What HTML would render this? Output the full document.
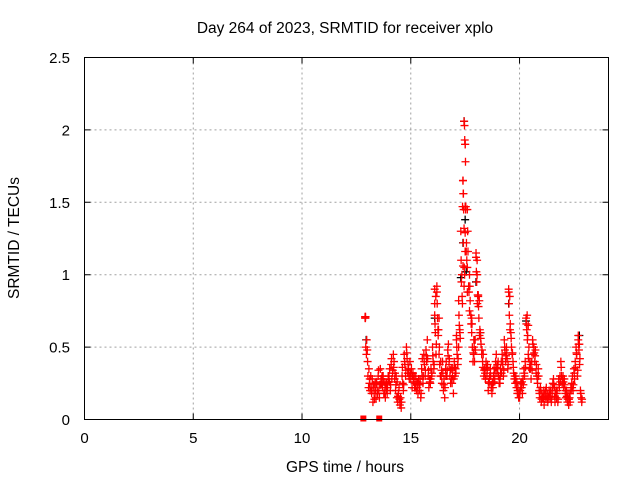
<!DOCTYPE html>
<html><head><meta charset="utf-8">
<style>
body{margin:0;background:#fff;}
svg{display:block;font-family:"Liberation Sans",sans-serif;}
</style></head>
<body>
<svg id="chart" width="640" height="480" viewBox="0 0 640 480">
<rect width="640" height="480" fill="#fff"/>
<text x="345" y="33" font-size="15.5" text-anchor="middle">Day 264 of 2023, SRMTID for receiver xplo</text>
<g id="grid"></g>
<g id="axes"></g>
<g id="marks"></g>
<rect x="84.5" y="57.5" width="524" height="362" fill="none" stroke="#000" stroke-width="1"/>
<text transform="translate(19,238) rotate(-90)" font-size="15.5" text-anchor="middle">SRMTID / TECUs</text>
<text x="345" y="472" font-size="15.5" text-anchor="middle">GPS time / hours</text>
</svg>
<script>
const xTicks=[0,5,10,15,20];
const yTicks=[0,0.5,1,1.5,2,2.5];
const yTickLabels=["0","0.5","1","1.5","2","2.5"];
const trackStart=12.9, trackStep=0.1;
const trackA=[0.71,0.48,0.25,0.18,0.22,0.15,0.30,0.35,0.22,0.18,0.25,0.30,0.38,0.45,0.20,0.12,0.10,0.30,0.45,0.50,0.35,0.28,0.32,0.25,0.22,0.20,0.35,0.45,0.48,0.30,0.25,0.50,0.72,0.88,0.45,0.30,0.20,0.35,0.48,0.30,0.25,0.40,0.55,0.82,1.30,1.65,1.90,1.45,1.00,0.60,0.45,1.12,0.85,0.60,0.40,0.35,0.30,0.25,0.22,0.30,0.40,0.35,0.25,0.45,0.55,0.50,0.88,0.60,0.40,0.25,0.18,0.15,0.22,0.35,0.70,0.45,0.35,0.55,0.40,0.30,0.20,0.12,0.15,0.20,0.12,0.15,0.18,0.22,0.15,0.28,0.40,0.30,0.18,0.12,0.15,0.25,0.35,0.50,0.55,0.20];
const trackB=[0.50,0.30,0.20,0.28,0.14,0.25,0.20,0.28,0.30,0.15,0.22,0.35,0.28,0.40,0.30,0.18,0.15,0.25,0.38,0.42,0.28,0.35,0.26,0.30,0.18,0.28,0.42,0.38,0.40,0.22,0.35,0.40,0.60,0.70,0.38,0.25,0.28,0.40,0.52,0.25,0.35,0.30,0.45,0.65,0.95,1.45,1.47,1.16,0.82,0.50,0.40,0.95,0.70,0.52,0.45,0.28,0.38,0.30,0.18,0.35,0.45,0.30,0.35,0.38,0.48,0.42,0.72,0.50,0.32,0.30,0.22,0.20,0.18,0.30,0.62,0.50,0.28,0.45,0.48,0.25,0.15,0.18,0.10,0.22,0.16,0.20,0.25,0.12,0.20,0.22,0.30,0.22,0.15,0.18,0.12,0.30,0.28,0.45,0.48,0.15];
const trackC=[0.45,0.22,0.30,0.12,0.25,0.20,0.15,0.25,0.18,0.25,0.30,0.20,0.32,0.28,0.15,0.22,0.08,0.20,0.30,0.32,0.40,0.22,0.30,0.20,0.28,0.15,0.25,0.30,0.55,0.28,0.30,0.35,0.45,0.58,0.30,0.40,0.15,0.30,0.38,0.35,0.18,0.35,0.38,0.60,0.85,1.05,1.22,0.92,0.72,0.40,0.55,0.80,0.58,0.45,0.30,0.40,0.20,0.35,0.25,0.28,0.32,0.25,0.40,0.30,0.40,0.35,0.62,0.45,0.28,0.22,0.15,0.25,0.28,0.40,0.55,0.35,0.40,0.50,0.32,0.35,0.22,0.15,0.18,0.14,0.20,0.12,0.28,0.18,0.12,0.30,0.25,0.28,0.20,0.10,0.22,0.20,0.40,0.30,0.38,0.12];
const trackD=[0.70,0.40,0.28,0.20,0.18,0.26,0.34,0.24,0.28,0.22,0.18,0.26,0.42,0.36,0.24,0.16,0.12,0.36,0.40,0.46,0.30,0.32,0.28,0.22,0.26,0.24,0.30,0.40,0.44,0.34,0.28,0.44,0.66,0.80,0.50,0.34,0.24,0.30,0.44,0.34,0.30,0.36,0.50,0.72,1.10,1.56,1.78,1.30,0.92,0.66,0.50,1.02,0.78,0.56,0.36,0.32,0.34,0.28,0.24,0.26,0.36,0.40,0.30,0.40,0.50,0.46,0.80,0.56,0.36,0.28,0.20,0.18,0.26,0.32,0.66,0.42,0.38,0.52,0.44,0.28,0.18,0.14,0.20,0.16,0.14,0.18,0.22,0.16,0.18,0.24,0.36,0.26,0.20,0.14,0.18,0.22,0.32,0.46,0.52,0.18];
const trackE=[0.55,0.35,0.22,0.24,0.20,0.18,0.24,0.30,0.26,0.20,0.28,0.24,0.34,0.32,0.26,0.14,0.12,0.24,0.34,0.38,0.32,0.30,0.22,0.26,0.24,0.18,0.30,0.34,0.42,0.26,0.32,0.38,0.52,0.62,0.40,0.32,0.22,0.34,0.42,0.28,0.28,0.32,0.42,0.56,0.80,1.00,1.10,0.88,0.66,0.46,0.48,0.86,0.62,0.48,0.34,0.36,0.26,0.30,0.22,0.32,0.38,0.28,0.32,0.34,0.44,0.38,0.66,0.46,0.30,0.26,0.18,0.22,0.24,0.36,0.58,0.40,0.34,0.46,0.38,0.30,0.20,0.16,0.14,0.18,0.18,0.14,0.24,0.20,0.14,0.26,0.28,0.24,0.16,0.14,0.20,0.24,0.36,0.34,0.42,0.14];
const extraX=[17.45,17.47,17.48,17.50,17.40,17.42,17.38,17.50,17.52,17.45,17.50,17.42,17.50,17.55,17.40,17.35,17.60,17.45,17.60,18.00,18.05,18.05,16.10,16.15,16.10,19.50,19.55,12.90,12.92,20.35,20.40,22.70,22.75,16.20,18.10,17.20,17.70,17.10,17.25,17.80,17.90,18.15,16.25,16.30];
const extraY=[2.06,2.03,1.93,1.90,1.65,1.56,1.47,1.47,1.45,1.32,1.29,1.22,1.16,1.16,1.06,1.00,1.05,0.92,0.88,1.15,1.10,1.00,0.90,0.85,0.80,0.90,0.85,0.70,0.71,0.72,0.65,0.58,0.52,0.92,0.86,0.50,0.75,0.58,0.62,0.70,0.55,0.82,0.62,0.70];
const blackX=[17.45,17.40,17.50,17.30,17.55,18.00,12.95,16.10,19.50,22.75,20.30,18.20];
const blackY=[2.06,1.22,1.38,0.98,1.02,0.95,0.55,0.70,0.80,0.58,0.68,0.60];
const zeroX=[12.82,13.55];
const zeroY=[0,0];

const L=84.5,R=608.5,T=57.5,B=419.5,XMAX=24.09,YMAX=2.5;
const X=v=>L+v/XMAX*(R-L);
const Y=v=>B-v/YMAX*(B-T);
const NS="http://www.w3.org/2000/svg";
function mk(tag,attrs,parent){const e=document.createElementNS(NS,tag);for(const k in attrs)e.setAttribute(k,attrs[k]);parent.appendChild(e);return e;}
const grid=document.getElementById('grid'),axes=document.getElementById('axes'),marks=document.getElementById('marks');
xTicks.forEach(t=>{
  const x=X(t);
  if(t>0){const g=mk('line',{x1:x,x2:x,y1:T,y2:B,stroke:'#a0a0a0','stroke-dasharray':'2,3'},grid);
  
  }
  const tk=mk('path',{d:`M${x},${B}v-6M${x},${T}v6`,stroke:'#000'},axes);
  
  
  const lb=mk('text',{x:x,y:443,'font-size':15,'text-anchor':'middle'},axes);lb.textContent=String(t);
  
  
});
yTicks.forEach((t,i)=>{
  const y=Y(t);
  if(t>0&&t<2.5){const g=mk('line',{x1:L,x2:R,y1:y,y2:y,stroke:'#a0a0a0','stroke-dasharray':'2,3'},grid);
  
  }
  const tk=mk('path',{d:`M${L},${y}h6M${R},${y}h-6`,stroke:'#000'},axes);
  
  
  const lb=mk('text',{x:70,y:y+5.5,'font-size':15,'text-anchor':'end'},axes);lb.textContent=yTickLabels[i];
  
  
});
function plus(xs,ys,color,name){
  let d='';
  for(let i=0;i<xs.length;i++){const x=X(xs[i]),y=Y(ys[i]);d+=`M${x-4},${y}h8M${x},${y-4}v8`;}
  const p=mk('path',{d:d,stroke:color,'stroke-width':1.3,fill:'none'},marks);
  
  
}
function track(vals,off){return vals.map((v,i)=>trackStart+off+i*trackStep);}
plus(blackX,blackY,'#000','black-series');
plus(track(trackA,0),trackA,'#f00','red-series-a');
plus(track(trackB,0.03),trackB,'#f00','red-series-b');
plus(track(trackC,0.06),trackC,'#f00','red-series-c');
plus(track(trackD,0.015),trackD,'#f00','red-series-d');
plus(track(trackE,0.075),trackE,'#f00','red-series-e');
plus(extraX,extraY,'#f00','red-series-peaks');
zeroX.forEach((v,i)=>{
  const r=mk('rect',{x:X(v)-3,y:Y(zeroY[i])-4,width:6,height:6,fill:'#f00'},marks);
  
  
});
</script>
</body></html>
